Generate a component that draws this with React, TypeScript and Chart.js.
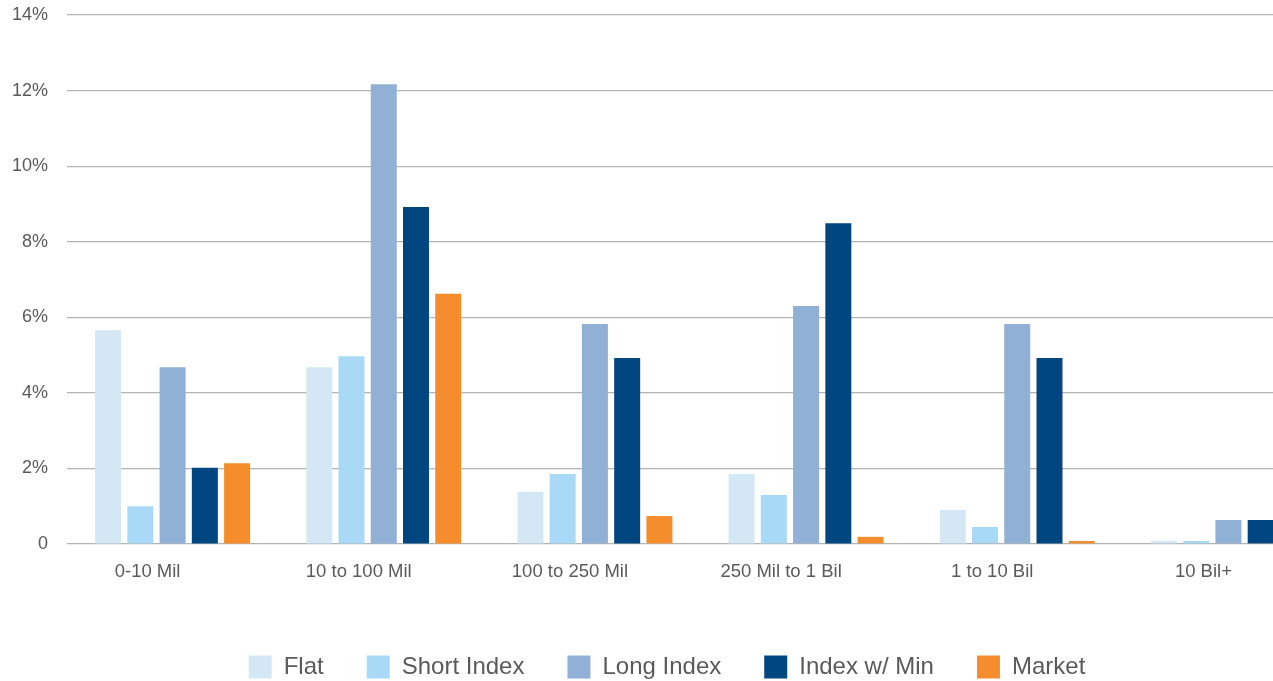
import React, { useEffect, useRef } from 'react';
import { Chart, registerables } from 'chart.js';

Chart.register(...registerables);

const categories = ['0-10 Mil', '10 to 100 Mil', '100 to 250 Mil', '250 Mil to 1 Bil', '1 to 10 Bil', '10 Bil+'];
const seriesNames = ['Flat', 'Short Index', 'Long Index', 'Index w/ Min', 'Market'];
const flat = [5.66, 4.68, 1.38, 1.85, 0.9, 0.08];
const shortIndex = [1.0, 4.97, 1.85, 1.3, 0.45, 0.08];
const longIndex = [4.68, 12.17, 5.82, 6.3, 5.82, 0.635];
const indexWithMin = [2.02, 8.92, 4.92, 8.49, 4.92, 0.635];
const market = [2.14, 6.62, 0.74, 0.19, 0.08, 0.05];
const seriesColors = ['#d3e8f4', '#a8d9f6', '#91b0d6', '#004680', '#f68d2c'];
const yTickValues = [0, 2, 4, 6, 8, 10, 12, 14];

const FONT = "'Liberation Sans', Arial, Helvetica, sans-serif";
const TEXT = '#5a5a5a';

export default function App() {
  const ref = useRef<HTMLCanvasElement | null>(null);

  useEffect(() => {
    if (!ref.current) return;
    const values = [flat, shortIndex, longIndex, indexWithMin, market];
    const chart = new Chart(ref.current, {
      type: 'bar',
      data: {
        labels: categories,
        datasets: seriesNames.map((name, i) => ({
          label: name,
          data: values[i],
          backgroundColor: seriesColors[i],
          borderWidth: 0,
          categoryPercentage: 0.7636,
          barPercentage: 0.806,
        })),
      },
      options: {
        responsive: false,
        animation: false,
        layout: { padding: { top: 15, right: 3, bottom: 0, left: 0 } },
        plugins: {
          tooltip: { enabled: false },
          legend: {
            position: 'bottom',
            labels: {
              boxWidth: 23,
              boxHeight: 23,
              padding: 43,
              color: TEXT,
              font: { family: FONT, size: 24 },
            },
          },
        },
        scales: {
          x: {
            grid: { display: false },
            border: { display: false },
            ticks: {
              color: TEXT,
              font: { family: FONT, size: 18.5 },
              padding: 9,
              labelOffset: -25,
              maxRotation: 0,
              autoSkip: false,
            },
            afterFit: (s: any) => {
              s.height = 68;
            },
          },
          y: {
            min: 0,
            max: 14,
            afterBuildTicks: (s: any) => {
              s.ticks = yTickValues.map((v) => ({ value: v }));
            },
            grid: { color: '#b4b4b4', lineWidth: 1.2, drawTicks: false },
            border: { display: false },
            ticks: {
              color: TEXT,
              font: { family: FONT, size: 18 },
              padding: 19,
              callback: (v: any) => (Number(v) === 0 ? '0' : v + '%'),
            },
            afterFit: (s: any) => {
              s.width = 67;
              s.paddingTop = 0;
              s.paddingBottom = 0;
            },
          },
        },
      },
    });
    return () => chart.destroy();
  }, []);

  return (
    <div
      style={{
        position: 'fixed',
        left: 0,
        top: 0,
        width: 1273,
        height: 681,
        overflow: 'hidden',
        background: '#ffffff',
      }}
    >
      <canvas ref={ref} width={1337} height={689} style={{ display: 'block', width: 1337, height: 689 }} />
    </div>
  );
}
